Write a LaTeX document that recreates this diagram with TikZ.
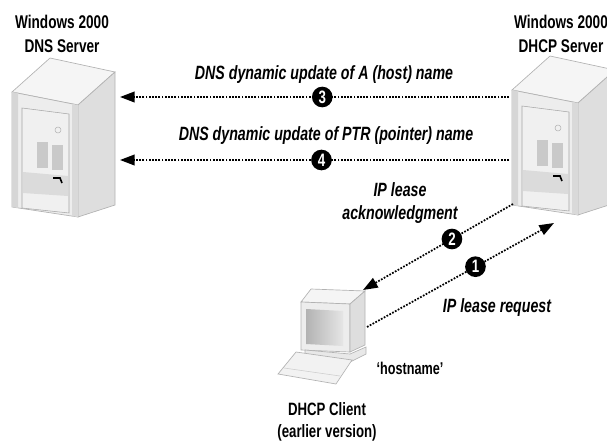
\documentclass[tikz,border=0pt]{standalone}
\usepackage{fontspec}
\setmainfont{Liberation Sans}[FakeStretch=0.74]
\usetikzlibrary{arrows.meta}

\tikzset{
	flow/.style={line width=1.3pt, dash pattern=on 1.3pt off 1.1pt, -{Triangle[length=11pt,width=8pt]}},
	badge/.style={circle, fill=black, text=white, inner sep=0pt, minimum size=15.5pt, font=\bfseries\fontsize{13.5}{13.5}\selectfont},
	caption/.style={font=\bfseries\itshape\fontsize{14.4}{17}\selectfont, align=center, inner sep=0pt},
	title/.style={font=\bfseries\fontsize{13.8}{18}\selectfont, align=center, inner sep=0pt},
	edge/.style={draw=gray!60, line width=0.5pt}
}

%% one tower, front left corner near (12,92)
\newcommand{\tower}[2]{%
	\begin{scope}[shift={(#1,#2)}]
		\filldraw[edge, fill=gray!8](12, 92) -- (50, 58) -- (115, 72) -- (78, 105) -- cycle;
		\filldraw[edge, fill=gray!14](12, 92) -- (78, 105) -- (78, 217) -- (12, 207) -- cycle;
		\filldraw[edge, fill=gray!26](78, 105) -- (115, 72) -- (115, 205) -- (78, 217) -- cycle;
		\fill[gray!32](12, 92) -- (18, 93) -- (18, 208) -- (12, 207) -- cycle;
		\fill[gray!30](72, 104) -- (78, 105) -- (78, 217) -- (72, 216) -- cycle;
		%%door
		\filldraw[draw=gray!70, fill=gray!12](22, 108) -- (69, 114) -- (69, 213) -- (22, 208) -- cycle;
		\fill[gray!28](23, 172) -- (68, 176) -- (68, 196) -- (23, 193) -- cycle;
		\fill[gray!42](37, 142) rectangle (48, 168);
		\fill[gray!42](52, 145) rectangle (63, 170);
		\draw[gray!60](58, 130) circle (3);
		\draw[line width=1.2pt](53, 178) -- (60, 178) -- (62, 183);
	\end{scope}}

\begin{document}
\begin{tikzpicture}[x=0.75pt, y=-0.75pt]
	\useasboundingbox (0, 0) rectangle (607, 446);

	%%the two servers
	\tower{0}{0}
	\node[title] (dnsname) at (62, 34) {Windows 2000\\DNS Server};

	\tower{500}{-2}
	\node[title] (dhcpname) at (561, 34) {Windows 2000\\DHCP Server};

	%%the client computer
	\filldraw[edge, fill=gray!8](301, 302) -- (311, 289) -- (365, 291) -- (350, 304) -- cycle;
	\filldraw[edge, fill=gray!14](301, 302) -- (350, 304) -- (350, 352) -- (301, 350) -- cycle;
	\filldraw[edge, fill=gray!26](350, 304) -- (365, 291) -- (365, 345) -- (350, 352) -- cycle;
	\shade[left color=gray!60, right color=gray!20](306, 309) -- (343, 311) -- (343, 346) -- (306, 344) -- cycle;
	\filldraw[edge, fill=gray!18](305, 350) -- (350, 354) -- (366, 347) -- (366, 354) -- (350, 362) -- (305, 357) -- cycle;
	\filldraw[edge, fill=gray!10](278, 374) -- (296, 352) -- (352, 360) -- (336, 384) -- cycle;
	\draw[gray!40](284, 368) -- (340, 376);
	\node[font=\bfseries\fontsize{12.8}{14}\selectfont, inner sep=0pt] (hostname) at (410, 368) {‘hostname’};
	\node[title, font=\bfseries\fontsize{13.4}{17}\selectfont] (client) at (327, 422) {DHCP Client\\(earlier version)};

	%%named ends of the connectors
	\coordinate (dhcpA) at (509, 97);
	\coordinate (dnsA) at (120, 97);
	\coordinate (dhcpB) at (509, 160);
	\coordinate (dnsB) at (120, 160);
	\coordinate (dhcpC) at (513, 204);
	\coordinate (pcC) at (363, 290);
	\coordinate (pcD) at (367, 327);
	\coordinate (dhcpD) at (554, 223);

	%%the updates to the DNS server
	\draw[flow](dhcpA) -- node[badge, pos=0.48] (b3) {3} (dnsA);
	\node[caption] (upd3) at (324, 75) {DNS dynamic update of A (host) name};
	\draw[flow](dhcpB) -- node[badge, pos=0.482] (b4) {4} (dnsB);
	\node[caption] (upd4) at (326, 136) {DNS dynamic update of PTR (pointer) name};

	%%lease request and acknowledgment
	\draw[flow](pcD) -- node[badge, pos=0.58] (b1) {1} (dhcpD);
	\node[caption] (req) at (497, 308) {IP lease request};
	\draw[flow](dhcpC) -- node[badge, pos=0.407] (b2) {2} (pcC);
	\node[caption] (ack) at (400, 203) {IP lease\\acknowledgment};
\end{tikzpicture}
\end{document}
